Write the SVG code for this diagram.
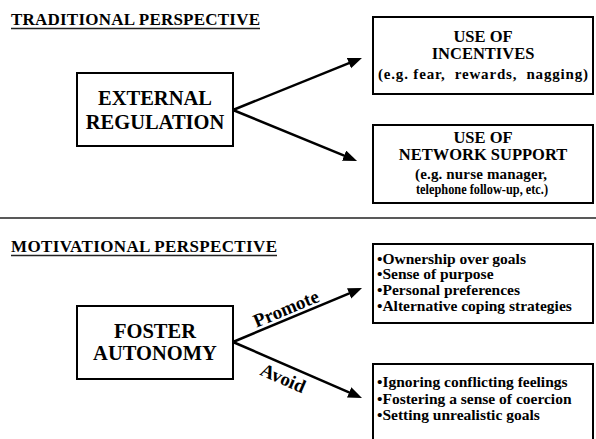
<svg xmlns="http://www.w3.org/2000/svg" width="596" height="439" viewBox="0 0 596 439" font-family="Liberation Serif" font-weight="bold">
  <style>
    text { fill: #000; }
    .title { font-size: 17px; }
    .big { font-size: 20.5px; text-anchor: middle; }
    .head { font-size: 16.5px; text-anchor: middle; }
    .note { font-size: 15px; text-anchor: middle; }
    .bul { font-size: 15.5px; }
    .lbl { font-size: 19px; text-anchor: middle; }
    .box { fill: #fff; stroke: #000; stroke-width: 2; }
    .conn { stroke: #000; stroke-width: 2.5; fill: none; marker-end: url(#arrow); }
    .rule { stroke: #222; stroke-width: 1.5; }
  </style>
  <defs>
    <marker id="arrow" markerUnits="userSpaceOnUse" markerWidth="16" markerHeight="12" refX="8" refY="5.5" orient="auto">
      <path d="M0,0 L14,5.5 L0,11 z" fill="#000"/>
    </marker>
  </defs>
  <rect width="596" height="439" fill="#fff"/>

  <!-- section titles and divider -->
  <g id="titles">
    <text class="title" x="11" y="25" textLength="249">TRADITIONAL PERSPECTIVE</text>
    <line class="rule" x1="11" y1="28.5" x2="260" y2="28.5"/>
    <line class="rule" x1="0" y1="218" x2="596" y2="218"/>
    <text class="title" x="11" y="252" textLength="266">MOTIVATIONAL PERSPECTIVE</text>
    <line class="rule" x1="11" y1="255.5" x2="277" y2="255.5"/>
  </g>

  <!-- connectors -->
  <g id="connectors">
    <line class="conn" x1="233" y1="110" x2="356.4" y2="60.2"/>
    <line class="conn" x1="233" y1="110" x2="351.5" y2="158.7"/>
    <line class="conn" x1="233" y1="342" x2="356.5" y2="290.3"/>
    <line class="conn" x1="233" y1="342" x2="356.5" y2="395.6"/>
    <text class="lbl" transform="translate(288.5 314.5) rotate(-22.7)">Promote</text>
    <text class="lbl" transform="translate(280.5 384) rotate(23.5)">Avoid</text>
  </g>

  <g id="external-regulation">
    <rect class="box" x="77" y="73" width="156" height="73"/>
    <text class="big" x="155" y="105">EXTERNAL</text>
    <text class="big" x="155" y="129">REGULATION</text>
  </g>

  <g id="use-of-incentives">
    <rect class="box" x="373" y="17" width="220" height="77"/>
    <text class="head" x="483" y="41.5">USE OF</text>
    <text class="head" x="483" y="59">INCENTIVES</text>
    <text class="note" x="483" y="79" textLength="210" xml:space="preserve">(e.g. fear,  rewards,  nagging)</text>
  </g>

  <g id="use-of-network-support">
    <rect class="box" x="373" y="125" width="220" height="78"/>
    <text class="head" x="483" y="142.5">USE OF</text>
    <text class="head" x="483" y="160">NETWORK SUPPORT</text>
    <text class="note" x="481" y="179" textLength="132">(e.g. nurse manager,</text>
    <text class="note" x="482" y="194" textLength="132" lengthAdjust="spacingAndGlyphs">telephone follow-up, etc.)</text>
  </g>

  <g id="foster-autonomy">
    <rect class="box" x="77" y="306" width="156" height="73"/>
    <text class="big" x="155" y="338">FOSTER</text>
    <text class="big" x="155" y="360">AUTONOMY</text>
  </g>

  <g id="promote-list">
    <rect class="box" x="373" y="244" width="220" height="79"/>
    <text class="bul" x="377" y="263.5">•Ownership over goals</text>
    <text class="bul" x="377" y="279">•Sense of purpose</text>
    <text class="bul" x="377" y="295">•Personal preferences</text>
    <text class="bul" x="377" y="311">•Alternative coping strategies</text>
  </g>

  <g id="avoid-list">
    <rect class="box" x="373" y="364" width="220" height="90"/>
    <text class="bul" x="377" y="387">•Ignoring conflicting feelings</text>
    <text class="bul" x="377" y="404">•Fostering a sense of coercion</text>
    <text class="bul" x="377" y="420">•Setting unrealistic goals</text>
  </g>
</svg>
